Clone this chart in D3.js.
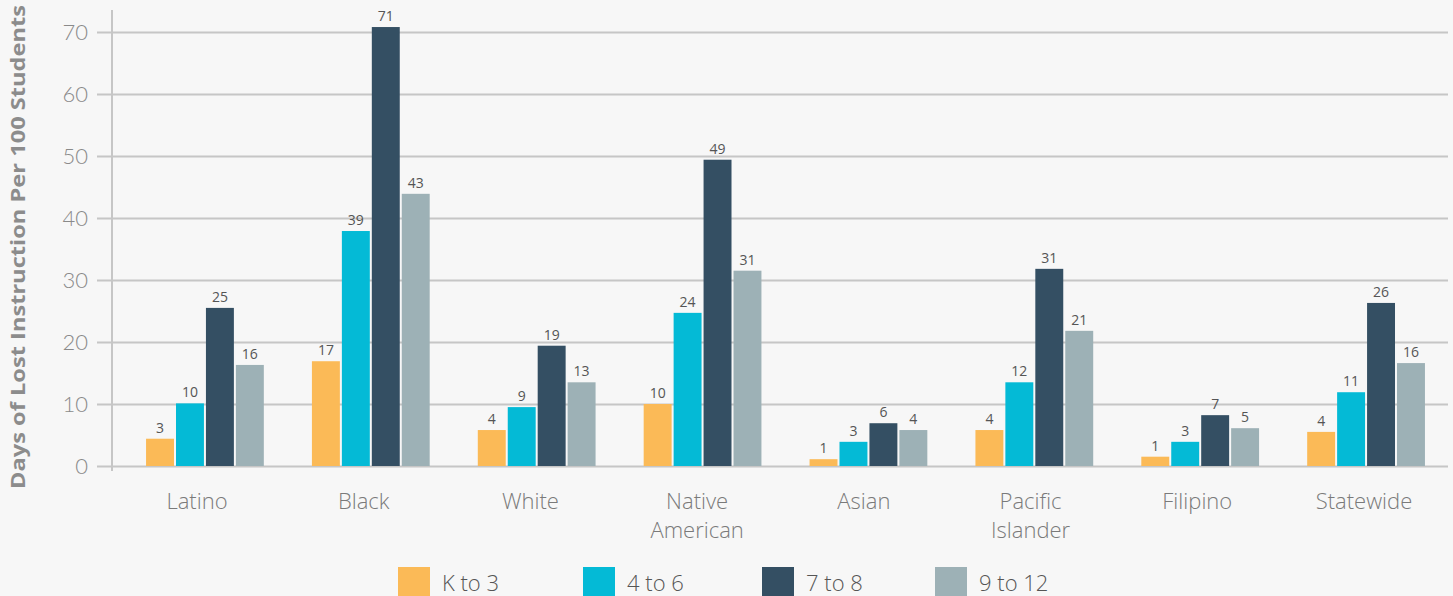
<!DOCTYPE html>
<html>
<head>
<meta charset="utf-8">
<script src="https://cdn.jsdelivr.net/npm/d3@7"></script>
<style>
  body { margin: 0; background: #f7f7f7; }
  svg { display: block; }
</style>
</head>
<body>
<div id="chart"></div>
<script>
// categories along the x axis
let categories = ["Latino", "Black", "White", "Native American", "Asian", "Pacific Islander", "Filipino", "Statewide"];
// grade bands = series
let grades = ["K to 3", "4 to 6", "7 to 8", "9 to 12"];
let colors = ["#fbba57", "#04bad6", "#344f63", "#9db1b6"];

// bar heights, one array per grade band
let k3 = [4.4, 16.9, 5.8, 10.0, 1.1, 5.8, 1.5, 5.5];
let g46 = [10.1, 37.9, 9.5, 24.7, 3.9, 13.5, 3.9, 11.9];
let g78 = [25.5, 70.8, 19.4, 49.4, 6.9, 31.8, 8.2, 26.3];
let g912 = [16.3, 43.9, 13.5, 31.5, 5.8, 21.8, 6.1, 16.6];

// numbers printed above the bars
let k3Labels = [3, 17, 4, 10, 1, 4, 1, 4];
let g46Labels = [10, 39, 9, 24, 3, 12, 3, 11];
let g78Labels = [25, 71, 19, 49, 6, 31, 7, 26];
let g912Labels = [16, 43, 13, 31, 4, 21, 5, 16];

let yTicks = [0, 10, 20, 30, 40, 50, 60, 70];

let seriesValues = [k3, g46, g78, g912];
let seriesLabels = [k3Labels, g46Labels, g78Labels, g912Labels];

let viz = d3.select("#chart")
    .append("svg")
    .attr("width", 1453)
    .attr("height", 596)
    .style("background-color", "#f7f7f7");

let x0 = d3.scaleBand().domain(categories).range([122, 1449])
    .paddingInner(0.29).paddingOuter(0.145);
let x1 = d3.scaleBand().domain(grades).range([0, x0.bandwidth()]).paddingInner(0.067);
// the category names sit on their own evenly spaced points
let xLab = d3.scalePoint().domain(categories).range([197, 1364]);
let y = d3.scaleLinear().domain([0, 70]).range([466, 32]);

// gridlines + tick labels
let yAxis = viz.append("g").attr("transform", "translate(112,0)")
    .call(d3.axisLeft(y).tickValues(yTicks).tickSize(-(1448 - 112)).tickPadding(24));
yAxis.select(".domain").remove();
yAxis.selectAll(".tick line")
    .attr("x1", -15)
    .attr("stroke", "#c6c6c6")
    .attr("stroke-width", 2);
yAxis.selectAll(".tick text")
    .attr("fill", "#8a8a8a")
    .style("font-family", "Lato, 'Open Sans', sans-serif")
    .style("font-size", "22px")
    .style("font-weight", 300);

// vertical axis line
viz.append("line")
    .attr("x1", 112).attr("x2", 112)
    .attr("y1", 10).attr("y2", 471)
    .attr("stroke", "#c6c6c6")
    .attr("stroke-width", 2);

// y title
viz.append("text")
    .attr("transform", "translate(25,247) rotate(-90)")
    .attr("text-anchor", "middle")
    .attr("fill", "#8c8c8c")
    .attr("textLength", 484)
    .attr("lengthAdjust", "spacingAndGlyphs")
    .style("font-family", "'Open Sans', sans-serif")
    .style("font-size", "20px")
    .style("font-weight", 700)
    .text("Days of Lost Instruction Per 100 Students");

// one group per category
let groups = viz.selectAll(".cat").data(categories).enter().append("g")
    .attr("class", "cat")
    .attr("transform", d => "translate(" + x0(d) + ",0)");

function barData(d, i) {
    return grades.map((g, j) => ({ grade: g, j: j, v: seriesValues[j][i], lab: seriesLabels[j][i] }));
}

groups.selectAll("rect")
    .data(barData)
    .enter().append("rect")
    .attr("x", d => x1(d.grade))
    .attr("y", d => y(d.v))
    .attr("width", x1.bandwidth())
    .attr("height", d => y(0) - y(d.v))
    .attr("fill", d => colors[d.j]);

groups.selectAll(".val")
    .data(barData)
    .enter().append("text")
    .attr("class", "val")
    .attr("x", d => x1(d.grade) + x1.bandwidth() / 2)
    .attr("y", d => y(d.v) - 6)
    .attr("text-anchor", "middle")
    .attr("fill", "#555")
    .style("font-family", "'Open Sans', sans-serif")
    .style("font-size", "14px")
    .text(d => d.lab);

// category labels, split on space for the two-word ones
viz.selectAll(".catlab").data(categories).enter().append("text")
    .attr("class", "catlab")
    .attr("text-anchor", "middle")
    .attr("fill", "#7a7a7a")
    .style("font-family", "'Open Sans', sans-serif")
    .style("font-size", "22px")
    .style("font-weight", 300)
    .each(function (d) {
        let t = d3.select(this);
        d.split(" ").forEach((w, k) => {
            t.append("tspan")
                .attr("x", xLab(d))
                .attr("y", 509 + k * 29)
                .text(w);
        });
    });

// legend
let legendX = [398, 583, 762, 935];
let legend = viz.selectAll(".leg").data(grades).enter().append("g")
    .attr("class", "leg")
    .attr("transform", (d, i) => "translate(" + legendX[i] + ",567)");
legend.append("rect")
    .attr("width", 32).attr("height", 32)
    .attr("fill", (d, i) => colors[i]);
legend.append("text")
    .attr("x", 44)
    .attr("y", 24)
    .attr("fill", "#555")
    .style("font-family", "'Open Sans', sans-serif")
    .style("font-size", "22px")
    .style("font-weight", 300)
    .text(d => d);
</script>
</body>
</html>
